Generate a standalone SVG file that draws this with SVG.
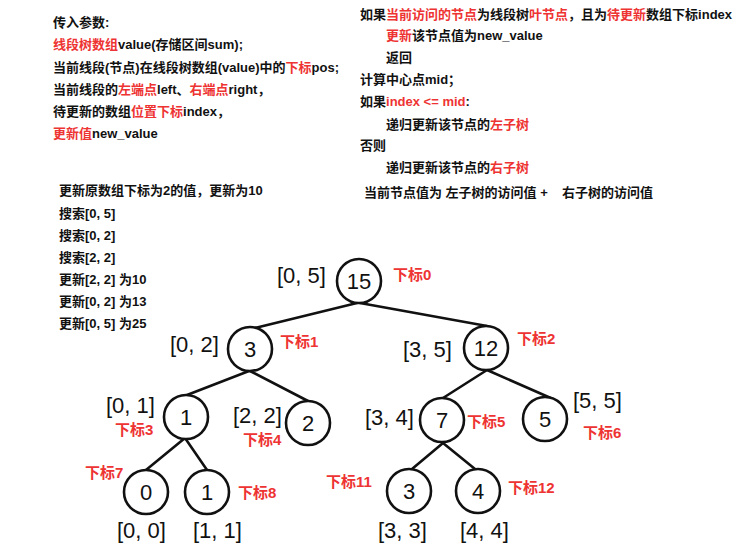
<svg xmlns="http://www.w3.org/2000/svg" width="739" height="557" viewBox="0 0 739 557">
<style>
.t{font-family:"Liberation Sans","Noto Sans CJK SC",sans-serif;font-size:13px;font-weight:bold;fill:#111}
.r{fill:#ee3333}
.rng{font-family:"Liberation Sans","Noto Sans CJK SC",sans-serif;font-size:22px;fill:#111}
.idx{font-family:"Liberation Sans","Noto Sans CJK SC",sans-serif;font-size:15px;font-weight:bold;fill:#ee3333}
.val{font-family:"Liberation Sans","Noto Sans CJK SC",sans-serif;font-size:22px;fill:#111;text-anchor:middle}
circle{fill:#fff;stroke:#111;stroke-width:2.6}
.edges line{stroke:#111;stroke-width:2.6;stroke-linecap:round}
</style>
<rect width="739" height="557" fill="#fff"/>
<g id="params">
<text class="t" x="53" y="27">传入参数:</text>
<text class="t" x="53" y="49"><tspan class="r">线段树数组</tspan>value(存储区间sum);</text>
<text class="t" x="53" y="72">当前线段(节点)在线段树数组(value)中的<tspan class="r">下标</tspan>pos;</text>
<text class="t" x="53" y="94">当前线段的<tspan class="r">左端点</tspan>left、<tspan class="r">右端点</tspan>right，</text>
<text class="t" x="53" y="116">待更新的数组<tspan class="r">位置下标</tspan>index，</text>
<text class="t" x="53" y="138"><tspan class="r">更新值</tspan>new_value</text>
</g>
<g id="algo">
<text class="t" x="360" y="19">如果<tspan class="r">当前访问的节点</tspan>为线段树<tspan class="r">叶节点</tspan>，且为<tspan class="r">待更新</tspan>数组下标index</text>
<text class="t" x="386" y="40"><tspan class="r">更新</tspan>该节点值为new_value</text>
<text class="t" x="386" y="62">返回</text>
<text class="t" x="360" y="84">计算中心点mid；</text>
<text class="t" x="360" y="106">如果<tspan class="r">index &lt;= mid</tspan>:</text>
<text class="t" x="386" y="129">递归更新该节点的<tspan class="r">左子树</tspan></text>
<text class="t" x="360" y="150">否则</text>
<text class="t" x="386" y="172">递归更新该节点的<tspan class="r">右子树</tspan></text>
<text class="t" x="364" y="197">当前节点值为 左子树的访问值 +<tspan x="562">右子树的访问值</tspan></text>
</g>
<g id="steps">
<text class="t" x="59" y="195">更新原数组下标为2的值，更新为10</text>
<text class="t" x="59" y="218">搜索[0, 5]</text>
<text class="t" x="59" y="240">搜索[0, 2]</text>
<text class="t" x="59" y="262">搜索[2, 2]</text>
<text class="t" x="59" y="284">更新[2, 2] 为10</text>
<text class="t" x="59" y="306">更新[0, 2] 为13</text>
<text class="t" x="59" y="328">更新[0, 5] 为25</text>
</g>
<g class="edges" id="edges">
<line x1="357" y1="303" x2="255" y2="328"/>
<line x1="360" y1="303" x2="487" y2="326"/>
<line x1="249" y1="371" x2="187" y2="395"/>
<line x1="250" y1="371" x2="308" y2="401"/>
<line x1="487" y1="370" x2="443" y2="398"/>
<line x1="487" y1="370" x2="553" y2="399"/>
<line x1="185" y1="438" x2="146" y2="470"/>
<line x1="185" y1="438" x2="207" y2="470"/>
<line x1="443" y1="443" x2="412" y2="469"/>
<line x1="443" y1="443" x2="475" y2="469"/>
</g>
<g id="n0"><circle cx="359" cy="281" r="22"/><text class="val" x="359" y="289">15</text><text class="rng" x="277" y="283">[0, 5]</text><text class="idx" x="393" y="280">下标0</text></g>
<g id="n1"><circle cx="250" cy="349" r="22"/><text class="val" x="250" y="357">3</text><text class="rng" x="170" y="352">[0, 2]</text><text class="idx" x="280" y="347">下标1</text></g>
<g id="n2"><circle cx="486" cy="348" r="22"/><text class="val" x="486" y="356">12</text><text class="rng" x="403" y="357">[3, 5]</text><text class="idx" x="517" y="344">下标2</text></g>
<g id="n3"><circle cx="186" cy="417" r="22"/><text class="val" x="186" y="425">1</text><text class="rng" x="106" y="413">[0, 1]</text><text class="idx" x="115" y="435">下标3</text></g>
<g id="n4"><circle cx="308" cy="423" r="22"/><text class="val" x="308" y="431">2</text><text class="rng" x="233" y="423">[2, 2]</text><text class="idx" x="243" y="445">下标4</text></g>
<g id="n5"><circle cx="442" cy="420" r="22"/><text class="val" x="442" y="428">7</text><text class="rng" x="365" y="425">[3, 4]</text><text class="idx" x="467" y="427">下标5</text></g>
<g id="n6"><circle cx="545" cy="419" r="22"/><text class="val" x="545" y="427">5</text><text class="rng" x="573" y="408">[5, 5]</text><text class="idx" x="583" y="438">下标6</text></g>
<g id="n7"><circle cx="146" cy="492" r="22"/><text class="val" x="146" y="500">0</text><text class="rng" x="117" y="538">[0, 0]</text><text class="idx" x="85" y="478">下标7</text></g>
<g id="n8"><circle cx="207" cy="492" r="22"/><text class="val" x="207" y="500">1</text><text class="rng" x="193" y="538">[1, 1]</text><text class="idx" x="238" y="498">下标8</text></g>
<g id="n11"><circle cx="409" cy="491" r="22"/><text class="val" x="409" y="499">3</text><text class="rng" x="378" y="538">[3, 3]</text><text class="idx" x="326" y="487">下标11</text></g>
<g id="n12"><circle cx="478" cy="491" r="22"/><text class="val" x="478" y="499">4</text><text class="rng" x="460" y="538">[4, 4]</text><text class="idx" x="508" y="493">下标12</text></g>
</svg>
